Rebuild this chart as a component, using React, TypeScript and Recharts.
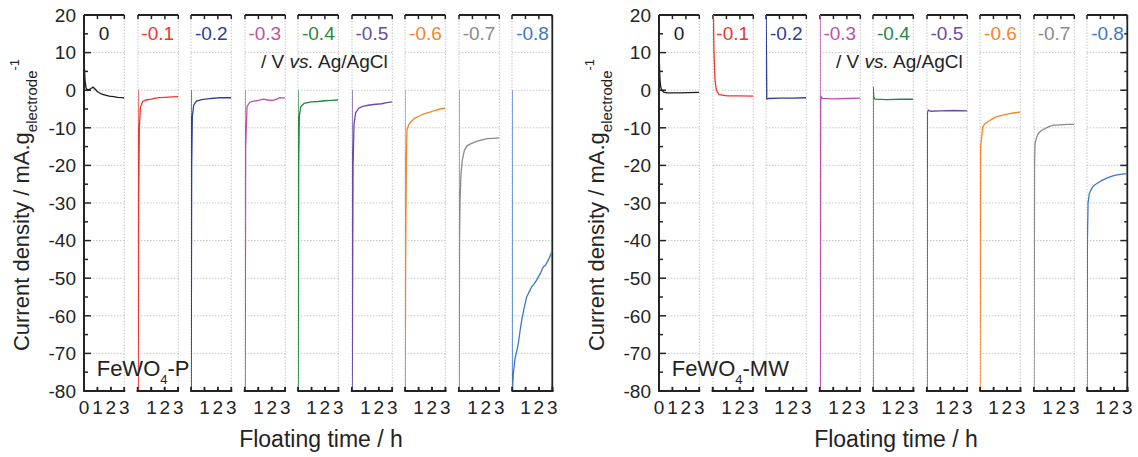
import React from "react";
import { LineChart, Line, XAxis, YAxis, ReferenceLine } from "recharts";

// potentials (V vs. Ag/AgCl) and their colours
const potentials = ["0", "-0.1", "-0.2", "-0.3", "-0.4", "-0.5", "-0.6", "-0.7", "-0.8"];
const colors = ["#1c1c1c", "#ee3530", "#2d3f98", "#c04fab", "#1f8a40", "#6b4aa5", "#f5842a", "#8a8a8a", "#3c78c6"];

const timeTicks = [0, 1, 2, 3];
const currentTicks = [-80, -75, -70, -65, -60, -55, -50, -45, -40, -35, -30, -25, -20, -15, -10, -5, 0, 5, 10, 15, 20];
const gridValues = [-70, -60, -50, -40, -30, -20, -10, 0, 10];

// FeWO4-P : [time / h, current density]
const p00: [number, number][] = [[0, 10], [0.03, 6], [0.08, 2.5], [0.15, 0.6], [0.25, 0.1], [0.4, 0.2], [0.55, 0.5], [0.67, 0.8], [0.8, 0.4], [1.0, -0.4], [1.2, -0.8], [1.37, -1.1], [1.6, -1.3], [1.87, -1.6], [2.2, -1.7], [2.5, -1.9], [2.86, -2.0], [3, -2.1]];
const p01: [number, number][] = [[0, 0], [0.01, -85], [0.05, -30], [0.1, -10], [0.18, -4.5], [0.35, -3.0], [0.6, -2.6], [1.0, -2.4], [1.2, -2.2], [1.6, -2.0], [2.0, -1.9], [2.5, -1.8], [3, -1.7]];
const p02: [number, number][] = [[0, 0], [0.01, -85], [0.05, -20], [0.1, -7], [0.2, -4.0], [0.4, -2.9], [0.8, -2.5], [1.5, -2.2], [2.2, -2.0], [3, -2.0]];
const p03: [number, number][] = [[0, 0], [0.01, -85], [0.05, -15], [0.15, -4.4], [0.35, -3.2], [0.64, -2.9], [1.0, -2.7], [1.38, -2.4], [1.7, -2.6], [2.1, -2.7], [2.4, -2.3], [2.6, -2.0], [3, -2.1]];
const p04: [number, number][] = [[0, 0], [0.01, -85], [0.05, -20], [0.1, -7], [0.2, -4.5], [0.45, -3.5], [1.0, -3.1], [1.5, -3.0], [2.0, -2.8], [2.5, -2.7], [3, -2.6]];
const p05: [number, number][] = [[0, 0], [0.01, -85], [0.08, -20], [0.15, -9], [0.27, -6.0], [0.5, -4.8], [0.8, -4.3], [1.2, -4.0], [1.6, -3.8], [2.2, -3.6], [2.6, -3.3], [3, -3.1]];
const p06: [number, number][] = [[0, 0], [0.01, -85], [0.05, -45], [0.1, -18], [0.15, -10.5], [0.3, -9], [0.5, -8.2], [0.7, -7.5], [1.0, -7.0], [1.4, -6.3], [1.8, -5.9], [2.2, -5.4], [2.6, -5.0], [3, -4.8]];
const p07: [number, number][] = [[0, 0], [0.01, -85], [0.04, -40], [0.08, -29], [0.15, -22], [0.25, -18.5], [0.4, -16], [0.6, -14.8], [0.9, -14.2], [1.3, -13.6], [1.7, -13.2], [2.1, -12.9], [2.5, -12.8], [3, -12.7]];
const p08: [number, number][] = [[0, 0], [0.01, -85], [0.03, -80], [0.1, -75.4], [0.22, -71.4], [0.35, -69.5], [0.47, -67.4], [0.6, -64], [0.72, -61.2], [0.9, -58], [1.09, -55], [1.3, -53.5], [1.46, -52.3], [1.65, -51.5], [1.83, -50.5], [2.1, -48.8], [2.33, -47], [2.5, -46.5], [2.7, -45.2], [2.85, -44], [3, -42.5]];

// FeWO4-MW
const m00: [number, number][] = [[0, 12], [0.03, 7], [0.07, 3], [0.12, 1], [0.2, 0], [0.35, -0.5], [0.6, -0.7], [1.5, -0.7], [3, -0.6]];
const m01: [number, number][] = [[0, 25], [0.04, 18], [0.07, 10.6], [0.15, 2.7], [0.25, 0], [0.45, -1.2], [1.07, -1.5], [2, -1.5], [3, -1.6]];
const m02: [number, number][] = [[0, 25], [0.06, -2.3], [0.2, -2.2], [1, -2.1], [2, -2.1], [3, -2.0]];
const m03: [number, number][] = [[0, 25], [0.02, -85], [0.05, -3], [0.1, -1.8], [0.2, -2.2], [1, -2.3], [2, -2.2], [3, -2.1]];
const m04: [number, number][] = [[0, -85], [0.01, 1], [0.06, -1.8], [0.15, -2.4], [1, -2.5], [2, -2.4], [3, -2.4]];
const m05: [number, number][] = [[0, -85], [0.03, -6], [0.1, -5.3], [0.3, -5.6], [1, -5.5], [2, -5.4], [3, -5.5]];
const m06: [number, number][] = [[0, -85], [0.05, -15], [0.2, -9.8], [0.35, -9], [0.575, -8.4], [0.9, -7.7], [1.2, -7.1], [1.7, -6.6], [2.2, -6.2], [2.6, -6.0], [3, -5.8]];
const m07: [number, number][] = [[0, -85], [0.04, -20], [0.075, -14.2], [0.2, -12.5], [0.325, -11.5], [0.55, -10.7], [0.825, -10.2], [1.1, -9.7], [1.45, -9.3], [2, -9.2], [2.5, -9.1], [3, -9.1]];
const m08: [number, number][] = [[0, -85], [0.03, -40], [0.08, -30], [0.17, -27.5], [0.3, -26.5], [0.42, -25.7], [0.65, -25.0], [0.91, -24.4], [1.15, -23.9], [1.4, -23.5], [1.75, -23.0], [2.14, -22.6], [2.6, -22.3], [3, -22.2]];

const panels = [
  { tag: "P", series: [p00, p01, p02, p03, p04, p05, p06, p07, p08] },
  { tag: "MW", series: [m00, m01, m02, m03, m04, m05, m06, m07, m08] },
];

const FONT = '"Liberation Sans", Arial, sans-serif';
const AXIS = "#232323";
const GRID = "#c6c6c6";
const PANEL_LEFT = [84, 659];
const SEG_PITCH = 53.55;
const SEG_W = 40.3;
const PLOT_TOP = 15;
const PLOT_H = 376;
const BOTTOM_H = 34;
const PAD = 8;
// inward tick lengths, in axis units
const TICK_T = 1.1; // ticks of the time axes (current units)
const TICK_MAJOR = 0.52; // ticks of the current axes (hours)
const TICK_MINOR = 0.3;

const tickLabel = { fontSize: 19, fill: AXIS, fontFamily: FONT };
const tickProps = { stroke: AXIS, strokeWidth: 1.5, ifOverflow: "visible" as const };
const frameProps = { stroke: AXIS, strokeWidth: 1.8, ifOverflow: "visible" as const };
const gridProps = { stroke: GRID, strokeWidth: 1, strokeDasharray: "1.5 1.5", ifOverflow: "visible" as const };

function Segment({ panel, idx }: { panel: number; idx: number }) {
  const first = idx === 0;
  const last = idx === potentials.length - 1;
  const yW = first ? 60 : 0;
  const padL = first ? 0 : PAD;
  const left = PANEL_LEFT[panel] + idx * SEG_PITCH - yW - padL;
  const data = panels[panel].series[idx].map(([t, j]) => ({ t, j }));

  return (
    <div style={{ position: "absolute", left, top: 0 }}>
      <LineChart
        width={yW + padL + SEG_W + PAD}
        height={PLOT_TOP + PLOT_H + BOTTOM_H}
        data={data}
        margin={{ top: PLOT_TOP, right: PAD, bottom: 0, left: padL }}
      >
        <XAxis
          dataKey="t"
          type="number"
          domain={[0, 3]}
          allowDataOverflow
          ticks={timeTicks}
          interval={0}
          height={BOTTOM_H}
          axisLine={{ stroke: AXIS, strokeWidth: 1.8 }}
          tickLine={false}
          tickSize={4}
          tickMargin={6}
          tick={tickLabel}
          tickFormatter={(v: number) => (v === 0 && !first ? "" : String(v))}
        />
        <YAxis
          type="number"
          domain={[-80, 20]}
          allowDataOverflow
          ticks={currentTicks}
          interval={0}
          width={yW}
          hide={!first}
          axisLine={{ stroke: AXIS, strokeWidth: 1.8 }}
          tickLine={false}
          tickSize={4}
          tickMargin={4}
          tick={tickLabel}
          tickFormatter={(v: number) => (v % 10 === 0 ? String(v) : "")}
        />

        {/* dotted grid */}
        {gridValues.map((v) => (
          <ReferenceLine key={`g${v}`} y={v} {...gridProps} />
        ))}
        <ReferenceLine x={0} {...gridProps} />
        <ReferenceLine x={3} {...gridProps} />

        {/* frame */}
        <ReferenceLine y={20} {...frameProps} />
        <ReferenceLine y={-80} {...frameProps} />
        {first && <ReferenceLine x={0} {...frameProps} />}
        {last && <ReferenceLine x={3} {...frameProps} />}

        {/* inward ticks of the time axes */}
        {timeTicks.map((t) => (
          <ReferenceLine key={`b${t}`} segment={[{ x: t, y: -80 }, { x: t, y: -80 + TICK_T }]} {...tickProps} />
        ))}
        {timeTicks.map((t) => (
          <ReferenceLine key={`t${t}`} segment={[{ x: t, y: 20 }, { x: t, y: 20 - TICK_T }]} {...tickProps} />
        ))}

        {/* inward ticks of the current axes */}
        {first &&
          currentTicks.map((v) => (
            <ReferenceLine
              key={`l${v}`}
              segment={[{ x: 0, y: v }, { x: v % 10 === 0 ? TICK_MAJOR : TICK_MINOR, y: v }]}
              {...tickProps}
            />
          ))}
        {last &&
          panel === 1 &&
          currentTicks.map((v) => (
            <ReferenceLine
              key={`r${v}`}
              segment={[{ x: 3, y: v }, { x: 3 - (v % 10 === 0 ? TICK_MAJOR : TICK_MINOR * 0.75), y: v }]}
              {...tickProps}
            />
          ))}

        <Line
          dataKey="j"
          type="linear"
          stroke={colors[idx]}
          strokeWidth={1.3}
          dot={false}
          isAnimationActive={false}
        />
      </LineChart>
    </div>
  );
}

export default function App() {
  const baseY = PLOT_TOP + PLOT_H;
  return (
    <div style={{ position: "absolute", left: 0, top: 0, width: 1138, height: 457, background: "#fff", fontFamily: FONT }}>
      {panels.map((_, k) =>
        potentials.map((__, i) => <Segment key={`${k}-${i}`} panel={k} idx={i} />)
      )}
      <svg width={1138} height={457} style={{ position: "absolute", left: 0, top: 0, pointerEvents: "none" }} fontFamily={FONT}>
        {panels.map((panel, k) => {
          const x0 = PANEL_LEFT[k];
          return (
            <g key={k} fill={AXIS}>
              {/* bottom edge of each segment box, with its inward ticks */}
              {potentials.map((lab, i) => {
                const sx = x0 + i * SEG_PITCH;
                return (
                  <g key={`base${lab}`} stroke={AXIS}>
                    <line x1={sx - 0.9} x2={sx + SEG_W + 0.9} y1={baseY} y2={baseY} strokeWidth={1.8} />
                    {timeTicks.map((t) => (
                      <line
                        key={t}
                        x1={sx + (t * SEG_W) / 3}
                        x2={sx + (t * SEG_W) / 3}
                        y1={baseY}
                        y2={baseY - 4}
                        strokeWidth={1.5}
                      />
                    ))}
                  </g>
                );
              })}
              {potentials.map((lab, i) => (
                <text key={lab} x={x0 + i * SEG_PITCH + SEG_W / 2} y={40} textAnchor="middle" fontSize={19} fill={colors[i]}>
                  {lab}
                </text>
              ))}
              <text x={x0 + 177} y={68} fontSize={19}>
                / V <tspan fontStyle="italic">vs.</tspan> Ag/AgCl
              </text>
              <text x={x0 + 12.7} y={376} fontSize={22}>
                FeWO<tspan fontSize={13} dy={7.5}>4</tspan>
                <tspan dy={-7.5}>-{panel.tag}</tspan>
              </text>
              <text x={x0 + 237} y={447} textAnchor="middle" fontSize={23}>
                Floating time / h
              </text>
              <text transform={`translate(${x0 - 55}, 205) rotate(-90)`} textAnchor="middle" fontSize={22}>
                Current density / mA.g<tspan fontSize={15} dy={8}>electrode</tspan>
                <tspan fontSize={13} dy={-18}>-1</tspan>
              </text>
            </g>
          );
        })}
      </svg>
    </div>
  );
}
